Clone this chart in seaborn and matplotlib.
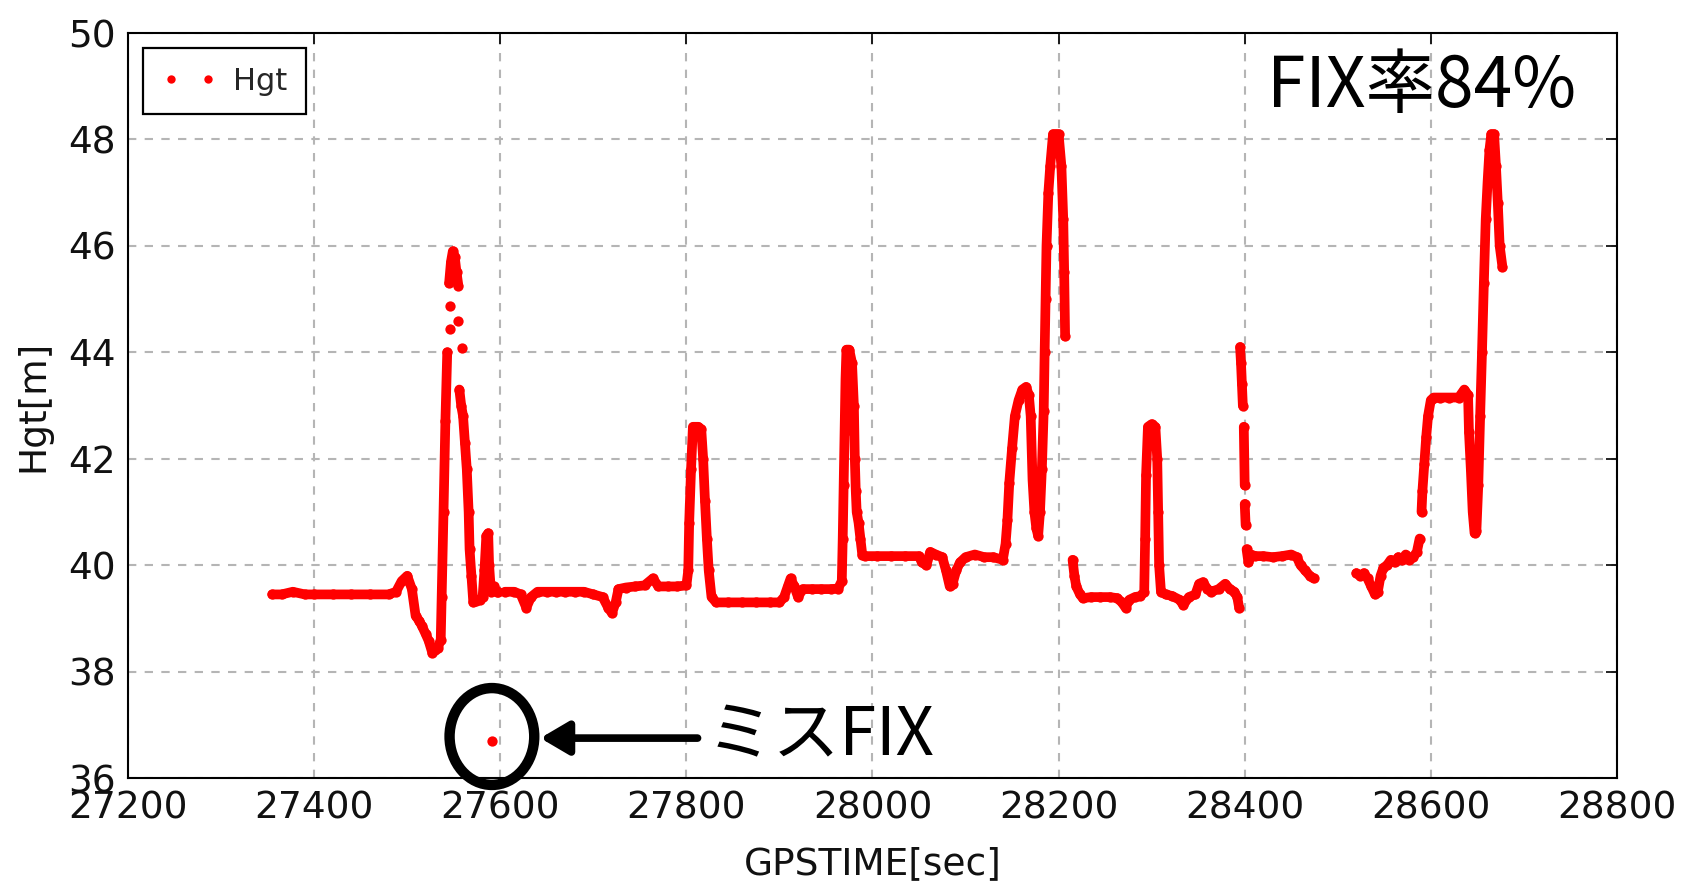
import matplotlib
matplotlib.use("Agg")
import matplotlib.pyplot as plt
import seaborn as sns
import pandas as pd
from matplotlib.patches import Ellipse
from matplotlib.lines import Line2D

# ---------------- data (GPSTIME [sec], Hgt [m]) ----------------
seg_a1_t = [27355, 27365, 27377, 27390, 27400, 27420, 27440, 27460, 27480, 27488, 27494, 27500,
            27505, 27509, 27513, 27516, 27520, 27523, 27527, 27530, 27533, 27536, 27537, 27539,
            27541, 27543]
seg_a1_h = [39.45, 39.45, 39.5, 39.45, 39.45, 39.45, 39.45, 39.45, 39.45, 39.5, 39.7, 39.8,
            39.55, 39.05, 38.95, 38.85, 38.7, 38.58, 38.35, 38.4, 38.45, 38.6, 39.4, 41.0,
            42.7, 44.0]
seg_a2_t = [27545, 27547, 27549, 27551, 27553, 27555]
seg_a2_h = [45.3, 45.7, 45.9, 45.8, 45.5, 45.25]
seg_a3_t = [27556, 27558, 27560, 27562, 27564, 27566, 27567, 27569, 27571, 27574, 27578, 27581,
            27583, 27585, 27587, 27588, 27590, 27593, 27596, 27598]
seg_a3_h = [43.3, 43.0, 42.8, 42.3, 41.8, 41.0, 40.3, 39.8, 39.3, 39.33, 39.35, 39.4,
            39.9, 40.55, 40.6, 40.0, 39.5, 39.6, 39.5, 39.5]
seg_b_t = [27605, 27615, 27622, 27628, 27633, 27640, 27650, 27660, 27670, 27680, 27690, 27700,
           27710, 27716, 27720, 27724, 27727, 27735, 27745, 27755, 27764, 27770, 27780, 27790,
           27800, 27802, 27803, 27805, 27807, 27810, 27813, 27816, 27818, 27820, 27822, 27824,
           27827, 27832, 27845, 27860, 27875, 27890, 27900, 27905, 27909, 27912, 27916, 27920,
           27925, 27935, 27945, 27955, 27963, 27967, 27968, 27969, 27970, 27971, 27972, 27975,
           27978, 27980, 27981, 27982, 27983, 27985, 27987, 27989, 27992, 28005, 28020, 28035,
           28050, 28053, 28058, 28062, 28068, 28075, 28079, 28083, 28086, 28090, 28094, 28100,
           28110, 28120, 28130, 28140, 28143, 28145, 28147, 28150, 28153, 28157, 28161, 28165,
           28168, 28170, 28172, 28174, 28176, 28178, 28180, 28182, 28184, 28185, 28186, 28187,
           28189, 28191, 28194, 28197, 28200, 28203, 28205, 28206, 28207]
seg_b_h = [39.5, 39.5, 39.45, 39.2, 39.4, 39.5, 39.5, 39.5, 39.5, 39.5, 39.5, 39.45,
           39.4, 39.2, 39.1, 39.3, 39.55, 39.58, 39.6, 39.62, 39.75, 39.6, 39.6, 39.6,
           39.62, 39.9, 40.8, 41.8, 42.6, 42.6, 42.6, 42.55, 42.0, 41.2, 40.5, 39.9,
           39.4, 39.3, 39.3, 39.3, 39.3, 39.3, 39.3, 39.4, 39.6, 39.75, 39.6, 39.4,
           39.55, 39.55, 39.55, 39.55, 39.56, 39.7, 40.5, 41.5, 42.5, 43.5, 44.05, 44.05,
           43.8, 43.0, 42.0, 41.4, 41.0, 40.8, 40.5, 40.2, 40.17, 40.17, 40.17, 40.17,
           40.17, 40.05, 40.0, 40.25, 40.2, 40.15, 39.9, 39.6, 39.65, 39.9, 40.05, 40.15,
           40.2, 40.15, 40.15, 40.1, 40.4, 40.85, 41.55, 42.2, 42.8, 43.1, 43.3, 43.35,
           43.2, 42.8, 41.6, 41.0, 40.7, 40.55, 41.0, 41.8, 42.9, 44.0, 45.0, 46.0,
           47.0, 47.5, 48.1, 48.1, 48.1, 47.5, 46.5, 45.5, 44.3]
seg_c_t = [28215, 28217, 28219, 28223, 28226, 28235, 28245, 28255, 28263, 28268, 28272, 28276,
           28282, 28288, 28292, 28293, 28294, 28296, 28300, 28304, 28306, 28307, 28308, 28310,
           28315, 28322, 28330, 28334, 28340, 28347, 28351, 28355, 28360, 28364, 28372, 28379,
           28384, 28389, 28392, 28394]
seg_c_h = [40.1, 39.8, 39.6, 39.45, 39.38, 39.4, 39.4, 39.4, 39.38, 39.3, 39.2, 39.35,
           39.4, 39.42, 39.5, 40.5, 41.7, 42.6, 42.65, 42.6, 42.0, 41.0, 40.0, 39.5,
           39.45, 39.42, 39.35, 39.25, 39.4, 39.45, 39.65, 39.68, 39.55, 39.5, 39.55, 39.65,
           39.55, 39.5, 39.4, 39.2]
seg_d1_t = [28395, 28396, 28397, 28398]
seg_d1_h = [44.1, 43.8, 43.4, 43.0]
seg_d2_t = [28399, 28400]
seg_d2_h = [42.6, 41.5]
seg_d3_t = [28400, 28401]
seg_d3_h = [41.15, 40.75]
seg_e_t = [28402, 28404, 28407, 28411, 28420, 28430, 28440, 28450, 28456, 28460, 28465, 28470,
           28474]
seg_e_h = [40.3, 40.05, 40.2, 40.17, 40.17, 40.15, 40.17, 40.2, 40.15, 40.0, 39.9, 39.8,
           39.75]
seg_f1_t = [28520, 28524, 28528, 28532, 28536, 28540, 28543, 28546, 28549, 28553, 28557, 28561,
            28565, 28569, 28573, 28577, 28581, 28585, 28588]
seg_f1_h = [39.85, 39.8, 39.85, 39.75, 39.6, 39.45, 39.5, 39.8, 39.95, 40.0, 40.1, 40.05,
            40.15, 40.1, 40.2, 40.1, 40.15, 40.25, 40.5]
seg_f2_t = [28590, 28591, 28593, 28595, 28597, 28600, 28603, 28610, 28620, 28630, 28636, 28640,
            28641, 28643, 28645, 28647, 28649, 28651, 28653, 28655, 28657, 28659, 28661, 28663,
            28665, 28668, 28670, 28672, 28674, 28677]
seg_f2_h = [41.0, 41.4, 41.9, 42.4, 42.8, 43.1, 43.15, 43.15, 43.15, 43.15, 43.3, 43.2,
            42.5, 41.8, 41.0, 40.6, 40.65, 41.5, 42.8, 44.0, 45.3, 46.5, 47.2, 47.8,
            48.1, 48.1, 47.5, 46.8, 46.0, 45.6]
iso_t = [27546, 27546, 27555, 27559]
iso_h = [44.43, 44.87, 44.58, 44.08]
miss_t = [27591]
miss_h = [36.69]

series_label = "Hgt"
fix_text = "FIX率84%"
miss_text = "ミスFIX"
xlabel = "GPSTIME[sec]"
ylabel = "Hgt[m]"
xticks = [27200, 27400, 27600, 27800, 28000, 28200, 28400, 28600, 28800]
yticks = [36, 38, 40, 42, 44, 46, 48, 50]

segments = {
    "a1": (seg_a1_t, seg_a1_h), "a2": (seg_a2_t, seg_a2_h), "a3": (seg_a3_t, seg_a3_h),
    "b": (seg_b_t, seg_b_h), "c": (seg_c_t, seg_c_h),
    "d1": (seg_d1_t, seg_d1_h), "d2": (seg_d2_t, seg_d2_h), "d3": (seg_d3_t, seg_d3_h),
    "e": (seg_e_t, seg_e_h), "f1": (seg_f1_t, seg_f1_h), "f2": (seg_f2_t, seg_f2_h),
}
line_df = pd.concat([pd.DataFrame({"t": t, "h": h, "seg": k}) for k, (t, h) in segments.items()],
                    ignore_index=True)
pts_df = pd.concat([line_df[["t", "h"]],
                    pd.DataFrame({"t": iso_t, "h": iso_h}),
                    pd.DataFrame({"t": miss_t, "h": miss_h})], ignore_index=True)

# ---------------- style ----------------
sns.set_theme(style="white")
plt.rcParams["font.family"] = ["DejaVu Sans", "Noto Sans CJK JP"]
jp_family = ["Noto Sans CJK JP", "DejaVu Sans"]

fig = plt.figure(figsize=(16.94, 8.83), dpi=100)
ax = fig.add_axes([0.0756, 0.1189, 0.8789, 0.8437])

sns.lineplot(data=line_df, x="t", y="h", units="seg", estimator=None, sort=False,
             color="red", lw=7, ax=ax, legend=False,
             solid_capstyle="round", solid_joinstyle="round")
sns.scatterplot(data=pts_df, x="t", y="h", color="red", s=55, linewidth=0, ax=ax, legend=False)

ax.set_xlim(27200, 28800)
ax.set_ylim(36, 50)
ax.set_xticks(xticks)
ax.set_yticks(yticks)
ax.set_axisbelow(True)
ax.grid(True, color="#b5b5b5", linestyle=(0, (4, 4)), lw=1.5)
for sp in ax.spines.values():
    sp.set_visible(True)
    sp.set_color("black")
    sp.set_linewidth(1.5)
ax.tick_params(direction="in", length=8, width=1.2, top=True, right=True,
               labelsize=27, pad=9, colors="black", labelcolor="#111111")
ax.set_xlabel(xlabel, fontsize=27, color="#111111", labelpad=14)
ax.set_ylabel(ylabel, fontsize=27, color="#111111", labelpad=12)

# legend
handle = Line2D([], [], ls="none", marker="o", color="red", markersize=6, mec="none")
leg = ax.legend(handles=[handle], labels=[series_label], loc="upper left", numpoints=2,
                fontsize=22, frameon=True, fancybox=False, edgecolor="black", framealpha=1,
                borderaxespad=0.5, borderpad=0.6, handlelength=1.8, handletextpad=0.55)
leg.get_frame().set_linewidth(1.6)

# annotations
ax.text(0.765, 0.9007, fix_text, transform=ax.transAxes, fontsize=50, family=jp_family,
        va="baseline", ha="left", color="black")
ax.text(27822, 36.43, miss_text, fontsize=48, family=jp_family, va="baseline", ha="left",
        color="black")
ax.add_patch(Ellipse((miss_t[0], miss_h[0] + 0.09), width=91, height=1.82, fill=False,
                     ec="black", lw=7.5, clip_on=False, zorder=5))
ax.annotate("", xy=(27643, 36.75), xytext=(27812, 36.75),
            arrowprops=dict(arrowstyle="-|>,head_length=0.85,head_width=0.5", lw=5.5,
                            color="black", shrinkA=0, shrinkB=0, mutation_scale=20))

fig.savefig("out.png", dpi=100)
